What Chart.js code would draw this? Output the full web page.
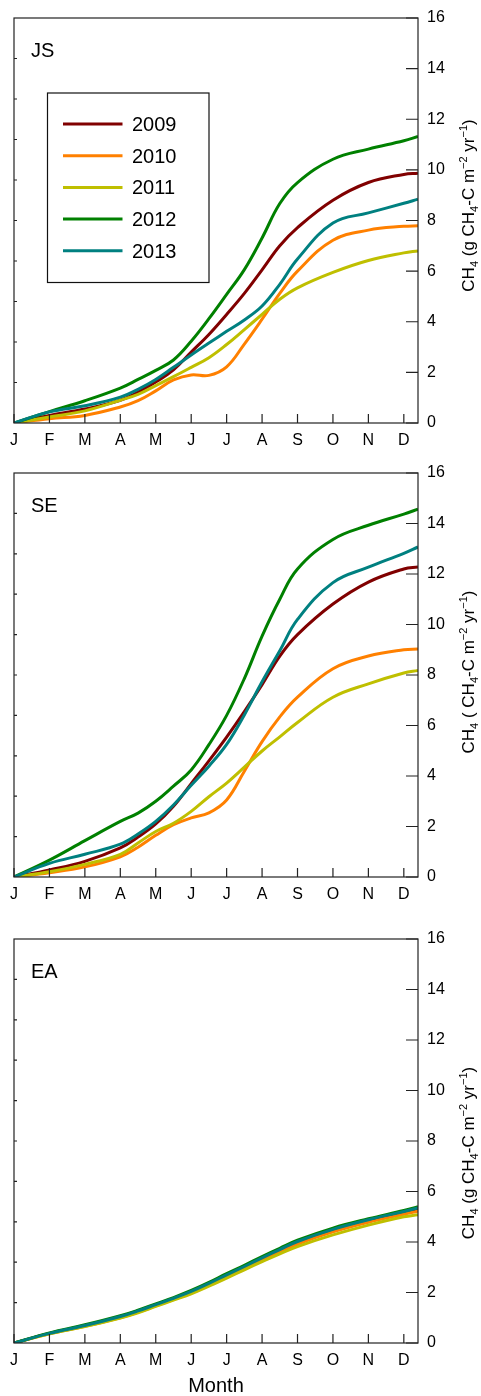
<!DOCTYPE html>
<html>
<head>
<meta charset="utf-8">
<script src="https://cdn.jsdelivr.net/npm/chart.js@4.4.1/dist/chart.umd.min.js"></script>
<style>
  html, body { margin: 0; padding: 0; background: #fff; overflow: hidden; }
  canvas { position: absolute; left: 0; }
</style>
</head>
<body>
<canvas id="chartJS" width="481" height="453" style="top:0px"></canvas>
<canvas id="chartSE" width="481" height="452" style="top:455px"></canvas>
<canvas id="chartEA" width="481" height="475" style="top:921px"></canvas>
<script>
// ---------- Data ---------- //
// x in months since 1 Jan (J = 0 ... D = 11)
const months = [0, 1, 2, 3, 3.5, 4, 4.5, 5, 5.5, 6, 6.5, 7, 7.5, 8, 9, 10, 11, 11.4];
const monthLabels = ["J", "F", "M", "A", "M", "J", "J", "A", "S", "O", "N", "D"];
const yTickValues = [0, 2, 4, 6, 8, 10, 12, 14, 16];
const years = ["2009", "2010", "2011", "2012", "2013"];

// JS panel
const js2009 = [0, 0.30, 0.55, 0.90, 1.22, 1.62, 2.10, 2.80, 3.50, 4.29, 5.12, 6.05, 7.00, 7.72, 8.80, 9.50, 9.82, 9.87];
const js2010 = [0, 0.17, 0.30, 0.63, 0.88, 1.27, 1.70, 1.90, 1.88, 2.22, 3.12, 4.10, 5.12, 6.00, 7.22, 7.62, 7.77, 7.79];
const js2011 = [0, 0.24, 0.48, 0.90, 1.13, 1.48, 1.83, 2.20, 2.58, 3.10, 3.69, 4.29, 4.89, 5.34, 5.95, 6.42, 6.72, 6.80];
const js2012 = [0, 0.45, 0.88, 1.38, 1.72, 2.08, 2.49, 3.23, 4.12, 5.08, 6.06, 7.31, 8.67, 9.50, 10.42, 10.82, 11.15, 11.32];
const js2013 = [0, 0.44, 0.68, 1.02, 1.33, 1.72, 2.20, 2.69, 3.16, 3.62, 4.07, 4.62, 5.48, 6.48, 7.90, 8.30, 8.68, 8.84];

// SE panel
const se2009 = [0, 0.28, 0.62, 1.15, 1.58, 2.10, 2.80, 3.70, 4.60, 5.54, 6.55, 7.62, 8.75, 9.60, 10.81, 11.68, 12.20, 12.28];
const se2010 = [0, 0.17, 0.40, 0.80, 1.18, 1.65, 2.07, 2.34, 2.54, 3.05, 4.19, 5.36, 6.34, 7.12, 8.25, 8.75, 9.00, 9.03];
const se2011 = [0, 0.21, 0.50, 0.90, 1.35, 1.80, 2.13, 2.60, 3.18, 3.72, 4.35, 4.99, 5.55, 6.12, 7.12, 7.65, 8.08, 8.18];
const se2012 = [0, 0.67, 1.44, 2.20, 2.53, 3.00, 3.60, 4.24, 5.24, 6.40, 7.86, 9.54, 11.00, 12.20, 13.37, 13.93, 14.37, 14.57];
const se2013 = [0, 0.54, 0.90, 1.30, 1.70, 2.20, 2.85, 3.63, 4.39, 5.25, 6.42, 7.73, 8.96, 10.20, 11.66, 12.27, 12.82, 13.07];

// EA panel
const ea2009 = [0, 0.38, 0.68, 1.04, 1.26, 1.50, 1.75, 2.02, 2.34, 2.68, 3.00, 3.33, 3.66, 3.98, 4.45, 4.84, 5.17, 5.32];
const ea2010 = [0, 0.36, 0.66, 1.00, 1.22, 1.47, 1.72, 1.99, 2.30, 2.63, 2.95, 3.28, 3.60, 3.92, 4.40, 4.78, 5.10, 5.22];
const ea2011 = [0, 0.36, 0.65, 0.99, 1.20, 1.45, 1.70, 1.95, 2.25, 2.57, 2.90, 3.22, 3.53, 3.82, 4.28, 4.67, 5.00, 5.08];
const ea2012 = [0, 0.40, 0.72, 1.08, 1.30, 1.55, 1.80, 2.08, 2.40, 2.75, 3.08, 3.42, 3.75, 4.07, 4.55, 4.92, 5.25, 5.40];
const ea2013 = [0, 0.38, 0.69, 1.05, 1.27, 1.52, 1.77, 2.04, 2.36, 2.70, 3.03, 3.37, 3.70, 4.02, 4.50, 4.88, 5.21, 5.35];

// ---------- Style ---------- //
const yearColors = ["#800000", "#ff8000", "#bfbf00", "#008000", "#008080"];
const FONT = "'Liberation Sans', Arial, Helvetica, sans-serif";

// axis title pieces: [text, 0 normal / -1 subscript / 1 superscript]
const titleFull = [["CH", 0], ["4", -1], [" (g CH", 0], ["4", -1], ["-C m", 0], ["\u22122", 1], [" yr", 0], ["\u22121", 1], [")", 0]];
const titleNoG = [["CH", 0], ["4", -1], [" ( CH", 0], ["4", -1], ["-C m", 0], ["\u22122", 1], [" yr", 0], ["\u22121", 1], [")", 0]];

function pieceFont(kind) {
  return (kind === 0 ? "17px " : "11px ") + FONT;
}

function drawRichTitle(ctx, parts, cx, cy) {
  ctx.save();
  ctx.translate(cx, cy);
  ctx.rotate(-Math.PI / 2);
  let total = 0;
  parts.forEach(p => { ctx.font = pieceFont(p[1]); total += ctx.measureText(p[0]).width; });
  let x = -total / 2;
  ctx.textAlign = "left";
  ctx.textBaseline = "alphabetic";
  ctx.fillStyle = "#000";
  parts.forEach(p => {
    ctx.font = pieceFont(p[1]);
    const dy = p[1] === -1 ? 10 : (p[1] === 1 ? -1 : 6);
    ctx.fillText(p[0], x, dy);
    x += ctx.measureText(p[0]).width;
  });
  ctx.restore();
}

// frame, inward ticks, panel label, right-side title, legend
function makeFrame(panel, title, titleShift, withLegend) {
  return {
    id: "frame" + panel,
    afterDatasetsDraw(chart) {
      const { ctx, chartArea: a, scales } = chart;
      ctx.save();
      ctx.strokeStyle = "#222";
      ctx.lineWidth = 1.2;
      ctx.strokeRect(a.left, a.top, a.right - a.left, a.bottom - a.top);
      ctx.beginPath();
      scales.x.ticks.forEach(t => {
        const px = scales.x.getPixelForValue(t.value);
        ctx.moveTo(px, a.bottom);
        ctx.lineTo(px, a.bottom - 9);
      });
      scales.y.ticks.forEach(t => {
        const py = scales.y.getPixelForValue(t.value);
        ctx.moveTo(a.right, py);
        ctx.lineTo(a.right - 12, py);
      });
      for (let i = 1; i < 10; i++) {
        const py = a.bottom - (a.bottom - a.top) * i / 10;
        ctx.moveTo(a.left, py);
        ctx.lineTo(a.left + 3, py);
      }
      ctx.stroke();

      ctx.fillStyle = "#000";
      ctx.font = "20px " + FONT;
      ctx.textAlign = "left";
      ctx.textBaseline = "alphabetic";
      ctx.fillText(panel, a.left + 17, a.top + 38.5);

      drawRichTitle(ctx, title, 467.5, (a.top + a.bottom) / 2 + titleShift);

      if (withLegend) {
        const bx = a.left + 33.5, by = a.top + 75;
        ctx.lineWidth = 1.2;
        ctx.strokeStyle = "#111";
        ctx.strokeRect(bx, by, 161.5, 189.5);
        chart.data.datasets.forEach((ds, i) => {
          const ry = by + 31 + i * 31.7;
          ctx.strokeStyle = ds.borderColor;
          ctx.lineWidth = 3;
          ctx.beginPath();
          ctx.moveTo(bx + 15.5, ry);
          ctx.lineTo(bx + 75, ry);
          ctx.stroke();
          ctx.fillStyle = "#000";
          ctx.font = "20px " + FONT;
          ctx.textBaseline = "middle";
          ctx.fillText(ds.label, bx + 84.5, ry + 1.5);
        });
      }
      ctx.restore();
    }
  };
}

function makeChart(id, panel, series, title, titleShift, withLegend, xHeight, showMonth) {
  return new Chart(document.getElementById(id), {
    type: "line",
    data: {
      datasets: years.map((yr, i) => ({
        label: yr,
        data: months.map((m, k) => ({ x: m, y: series[i][k] })),
        borderColor: yearColors[i],
        borderWidth: 3,
        pointRadius: 0,
        fill: false,
        tension: 0.4,
        order: years.length - i
      }))
    },
    options: {
      responsive: false,
      animation: false,
      events: [],
      layout: { padding: { top: 18, left: 14, right: 0, bottom: 0 } },
      plugins: { legend: { display: false }, tooltip: { enabled: false } },
      scales: {
        x: {
          type: "linear",
          min: 0,
          max: 11.4,
          grid: { display: false },
          border: { display: false },
          ticks: {
            stepSize: 1,
            includeBounds: false,
            autoSkip: false,
            maxRotation: 0,
            color: "#000",
            padding: 0,
            font: { family: FONT, size: 16 },
            callback: v => monthLabels[v] ?? ""
          },
          title: {
            display: showMonth,
            text: "Month",
            color: "#000",
            font: { family: FONT, size: 20 },
            padding: { top: 0, bottom: -2 }
          },
          afterFit: s => { s.height = xHeight; }
        },
        y: {
          position: "right",
          min: 0,
          max: 16,
          grid: { display: false },
          border: { display: false },
          afterBuildTicks: s => { s.ticks = yTickValues.map(v => ({ value: v })); },
          ticks: {
            color: "#000",
            padding: 1,
            font: { family: FONT, size: 16 }
          },
          afterFit: s => { s.width = 63; }
        }
      }
    },
    plugins: [makeFrame(panel, title, titleShift, withLegend)]
  });
}

makeChart("chartJS", "JS", [js2009, js2010, js2011, js2012, js2013], titleFull, -15, true, 30, false);
makeChart("chartSE", "SE", [se2009, se2010, se2011, se2012, se2013], titleNoG, -3, false, 30, false);
makeChart("chartEA", "EA", [ea2009, ea2010, ea2011, ea2012, ea2013], titleFull, 12, false, 53, true);
</script>
</body>
</html>
